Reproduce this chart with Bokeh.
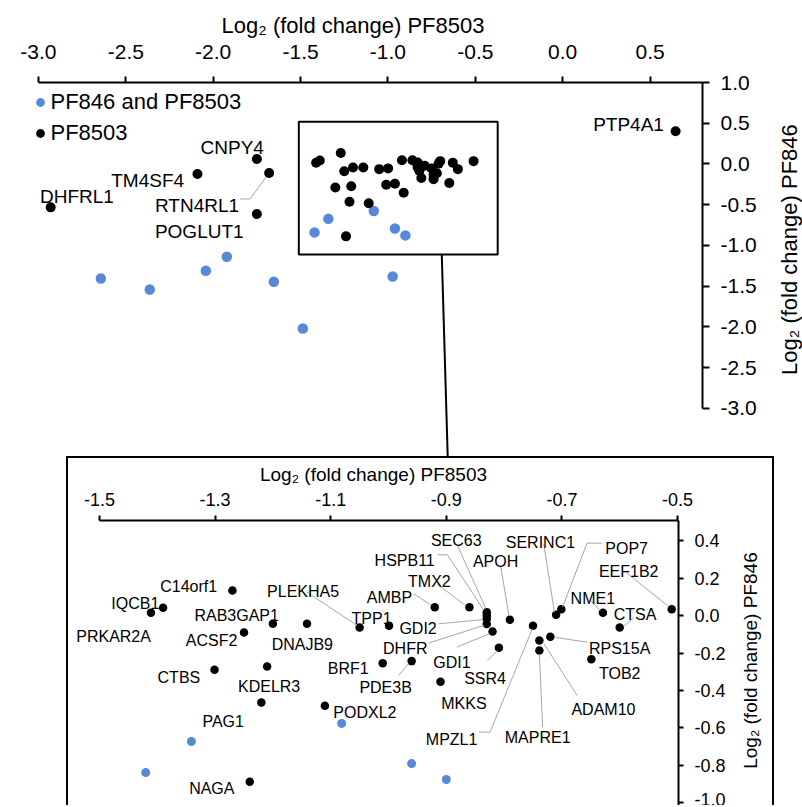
import math
from bokeh.plotting import figure
from bokeh.models import (Range1d, FixedTicker, PrintfTickFormatter, ColumnDataSource,
                          Legend, LegendItem, BoxAnnotation, Spacer)
from bokeh.layouts import column, row
from bokeh.embed import file_html
from bokeh.resources import INLINE
from bokeh.core.properties import value

FONT = "Liberation Sans"
BLUE = "#5889D6"
LEADER = "#A6A6A6"
BORDER = "2px solid black"

# ---------------- data ----------------
# proteins changed in PF8503 only (black)
pf8503_genes = ["DHFRL1", "TM4SF4", "CNPY4", "RTN4RL1", "POGLUT1", "PTP4A1",
                "C14orf1", "IQCB1", "PRKAR2A", "RAB3GAP1", "DNAJB9", "ACSF2",
                "PLEKHA5", "TPP1", "CTBS", "KDELR3", "BRF1", "PDE3B", "MKKS",
                "PAG1", "PODXL2", "NAGA", "AMBP", "TMX2", "SEC63", "HSPB11",
                "GDI2", "DHFR", "GDI1", "APOH", "SSR4", "MPZL1", "SERINC1",
                "POP7", "NME1", "EEF1B2", "CTSA", "RPS15A", "ADAM10", "MAPRE1",
                "TOB2"]
pf8503_x = [-2.93, -2.09, -1.75, -1.68, -1.75, 0.646,
            -1.270, -1.390, -1.411, -1.200, -1.141, -1.250,
            -1.050, -0.999, -1.301, -1.210, -1.010, -0.960, -0.910,
            -1.220, -1.110, -1.240, -0.920, -0.860, -0.830, -0.830,
            -0.830, -0.830, -0.820, -0.790, -0.809, -0.750, -0.710,
            -0.701, -0.629, -0.510, -0.600, -0.720, -0.739, -0.739,
            -0.649]
pf846_y_black = [-0.532, -0.123, 0.061, -0.110, -0.614, 0.401,
                 0.135, 0.042, 0.016, -0.043, -0.043, -0.090,
                 -0.063, -0.054, -0.289, -0.272, -0.254, -0.243, -0.353,
                 -0.464, -0.482, -0.888, 0.045, 0.045, 0.019, 0.001,
                 -0.018, -0.044, -0.084, -0.022, -0.172, -0.054, 0.005,
                 0.035, 0.016, 0.035, -0.063, -0.113, -0.133, -0.186,
                 -0.233]
# proteins changed in both PF846 and PF8503 (blue)
both_x = [-2.643, -2.363, -2.042, -1.922, -1.653, -1.487, -0.973,
          -1.081, -1.341, -1.420, -0.960, -0.900]
both_y = [-1.406, -1.540, -1.309, -1.138, -1.444, -2.019, -1.381,
          -0.576, -0.673, -0.839, -0.791, -0.876]

top_xticks = [-3.0, -2.5, -2.0, -1.5, -1.0, -0.5, 0.0, 0.5]
top_yticks = [-3.0, -2.5, -2.0, -1.5, -1.0, -0.5, 0.0, 0.5, 1.0]
ins_xticks = [-1.5, -1.3, -1.1, -0.9, -0.7, -0.5]
ins_yticks = [-1.0, -0.8, -0.6, -0.4, -0.2, 0.0, 0.2, 0.4]

XLABEL = "Log\u2082 (fold change) PF8503"
YLABEL = "Log\u2082 (fold change) PF846"
LEGEND_BOTH = "PF846 and PF8503"
LEGEND_ONE = "PF8503"

# zoom window drawn on the overview (data units of the overview)
ZOOM_BOX = dict(left=-1.51, right=-0.372, bottom=-1.111, top=0.518)
CONNECT_X = (-0.692, -0.658)

# ---------------- label layout (align, dx px, dy px; baseline offsets) ----------------
TOP_LABELS = {
    "DHFRL1": ("left", -10.7, -10.7),
    "TM4SF4": ("right", -13.4, 6.0),
    "CNPY4": ("center", -24.7, -11.6),
    "RTN4RL1": ("right", -30.0, 32.7),
    "POGLUT1": ("right", -13.3, 17.7),
    "PTP4A1": ("right", -11.7, -6.7),
}
TOP_LEADERS = {"RTN4RL1": [(-29, 26), (-19, 26), (-3, 4)]}

INSET_LABELS = {
    "C14orf1": ("right", -15.3, -4.0),
    "IQCB1": ("right", -3.7, -4.0),
    "PRKAR2A": ("right", 0.0, 23.7),
    "RAB3GAP1": ("right", 6.0, -8.3),
    "ACSF2": ("right", -6.6, 8.0),
    "DNAJB9": ("center", -4.7, 20.7),
    "PLEKHA5": ("center", -56.5, -36.3),
    "TPP1": ("center", -17.5, -7.0),
    "GDI2": ("right", -50.0, 9.8),
    "DHFR": ("right", -59.3, 24.8),
    "GDI1": ("center", -40.6, 30.7),
    "SSR4": ("center", -13.8, 31.0),
    "MKKS": ("left", 0.7, 22.0),
    "AMBP": ("right", -22.6, -10.0),
    "TMX2": ("center", -40.0, -25.7),
    "HSPB11": ("right", -52.0, -55.0),
    "SEC63": ("center", -30.5, -71.7),
    "APOH": ("center", -14.3, -58.3),
    "SERINC1": ("center", -15.7, -72.0),
    "POP7": ("left", 44.0, -60.4),
    "EEF1B2": ("center", -43.0, -37.7),
    "NME1": ("center", -10.1, -14.0),
    "CTSA": ("center", 15.4, -12.7),
    "RPS15A": ("left", 38.6, 12.0),
    "TOB2": ("left", 7.6, 14.6),
    "ADAM10": ("center", 64.1, 69.0),
    "MAPRE1": ("center", -1.7, 87.3),
    "MPZL1": ("right", -55.6, 113.7),
    "BRF1": ("right", -14.0, 5.6),
    "PDE3B": ("center", -26.0, 26.0),
    "CTBS": ("right", -14.3, 7.4),
    "KDELR3": ("center", 2.0, 20.0),
    "PAG1": ("right", -17.4, 18.7),
    "PODXL2": ("left", 8.4, 6.4),
    "NAGA": ("right", -15.3, 6.4),
}
INSET_LEADERS = {
    "PLEKHA5": [(-52.6, -35.3), (-2.6, -2.0)],
    "GDI2": [(-48.3, 4.8), (-4.0, 0.5)],
    "DHFR": [(-58.3, 19.2), (-3.0, 1.5)],
    "GDI1": [(-35.6, 15.7), (-3.0, 2.3)],
    "SSR4": [(-11.6, 12.7), (-1.6, 2.7)],
    "AMBP": [(-21.0, -13.4), (-4.3, -2.7)],
    "TMX2": [(-32.3, -23.4), (-4.0, -1.7)],
    "HSPB11": [(-49.3, -60.7), (-39.3, -60.7), (-2.7, -5.0)],
    "SEC63": [(-29.3, -66.7), (-1.0, -3.7)],
    "APOH": [(-9.3, -54.3), (-1.0, -4.3)],
    "SERINC1": [(-12.4, -71.0), (-1.7, -2.6)],
    "POP7": [(40.7, -66.0), (25.7, -66.0), (1.3, -2.0)],
    "EEF1B2": [(-46.0, -37.0), (-4.3, -3.7)],
    "NME1": [(-12.3, -12.3), (-3.0, -2.3)],
    "CTSA": [(14.0, -9.7), (4.0, -1.0)],
    "RPS15A": [(37.0, 5.4), (3.6, 0.4)],
    "ADAM10": [(38.0, 55.0), (4.6, 3.3)],
    "MAPRE1": [(3.3, 76.7), (0.0, 3.7)],
    "MPZL1": [(-54.0, 106.4), (-43.0, 106.4), (-0.6, 3.0)],
    "PDE3B": [(-13.0, 14.3), (-3.0, 2.6)],
}

lookup = {g: (x, y) for g, x, y in zip(pf8503_genes, pf8503_x, pf846_y_black)}


def style_axis(ax, ticks, fs, title_fs, tick_out, lab_standoff, title_standoff, title,
               bounds=None):
    ax.ticker = FixedTicker(ticks=ticks)
    ax.formatter = PrintfTickFormatter(format="%.1f")
    ax.minor_tick_line_color = None
    ax.major_tick_in = 0
    ax.major_tick_out = tick_out
    ax.major_tick_line_width = 2
    ax.major_tick_line_color = "black"
    ax.axis_line_width = 2
    ax.axis_line_color = "black"
    ax.major_label_text_font = FONT
    ax.major_label_text_font_size = fs
    ax.major_label_text_color = "black"
    ax.major_label_standoff = lab_standoff
    ax.axis_label = title
    ax.axis_label_text_font = FONT
    ax.axis_label_text_font_size = title_fs
    ax.axis_label_text_font_style = "normal"
    ax.axis_label_text_color = "black"
    ax.axis_label_standoff = title_standoff
    if bounds is not None:
        ax.bounds = bounds


def add_labels(fig, layout, fs):
    for align in ("left", "center", "right"):
        sel = [g for g in pf8503_genes if g in layout and layout[g][0] == align]
        if not sel:
            continue
        src = ColumnDataSource(dict(
            x=[lookup[g][0] for g in sel], y=[lookup[g][1] for g in sel], text=sel,
            dx=[layout[g][1] for g in sel], dy=[layout[g][2] for g in sel]))
        fig.text(x="x", y="y", text="text", x_offset="dx", y_offset="dy", source=src,
                 text_align=align, text_baseline="alphabetic", text_font=value(FONT),
                 text_font_size=fs, text_color="black")


def add_leaders(fig, leaders, sx, sy):
    xs, ys = [], []
    for g, verts in leaders.items():
        x0, y0 = lookup[g]
        xs.append([x0 + dx / sx for dx, dy in verts])
        ys.append([y0 - dy / sy for dx, dy in verts])
    fig.multi_line(xs, ys, line_color=LEADER, line_width=1)


def title_strip(width, height, y_range, text, fs, x_px, y_mid, styles=None):
    """A narrow plot that carries a rotated axis title (reads bottom to top)."""
    f = figure(width=width, height=height, x_range=Range1d(0, width), y_range=y_range,
               x_axis_location=None, y_axis_location=None,
               output_backend="svg", toolbar_location=None, min_border=0)
    f.xgrid.visible = False
    f.ygrid.visible = False
    f.outline_line_color = None
    f.text(x=[x_px], y=[y_mid], text=[text], angle=math.pi / 2, text_align="center",
           text_baseline="middle", text_font=value(FONT), text_font_size=fs,
           text_color="black")
    if styles:
        f.styles = styles
    return f


# ---------------- overview ----------------
TOP_W, TOP_H, STRIP_W = 770, 456, 32
T_LEFT, T_RIGHT, T_TOP = 3, 68, 82
TX = (-3.2, 0.8)
TY = (-3.589, 1.0)
top_yr = Range1d(*TY)
p = figure(width=TOP_W, height=TOP_H, x_range=Range1d(*TX), y_range=top_yr,
           x_axis_location="above", y_axis_location="right",
           output_backend="svg", toolbar_location=None,
           min_border_left=T_LEFT, min_border_right=T_RIGHT,
           min_border_top=T_TOP, min_border_bottom=0)
p.xgrid.visible = False
p.ygrid.visible = False
p.outline_line_color = None
style_axis(p.xaxis[0], top_xticks, "21px", "22px", 6, 18, 4, XLABEL, bounds=(-3.0, 0.8))
style_axis(p.yaxis[0], top_yticks, "21px", "22px", 7, 11, 0, None, bounds=(-3.0, 1.0))

sx_top = (TOP_W - T_LEFT - T_RIGHT) / (TX[1] - TX[0])
sy_top = (TOP_H - T_TOP) / (TY[1] - TY[0])

p.add_layout(BoxAnnotation(fill_color=None, fill_alpha=0, line_color="black",
                           line_alpha=1.0, line_width=2, **ZOOM_BOX))
p.segment(x0=[CONNECT_X[0]], y0=[ZOOM_BOX["bottom"]], x1=[CONNECT_X[1]], y1=[TY[0]],
          line_color="black", line_width=2)

r_blue = p.scatter(both_x, both_y, size=10.5, color=BLUE, line_width=0)
r_black = p.scatter(pf8503_x, pf846_y_black, size=10, color="black", line_width=0)
add_leaders(p, TOP_LEADERS, sx_top, sy_top)
add_labels(p, TOP_LABELS, "19px")

legend = Legend(items=[LegendItem(label=value(LEGEND_BOTH), renderers=[r_blue]),
                       LegendItem(label=value(LEGEND_ONE), renderers=[r_black])],
                location=(25.5, 310.3), glyph_width=22, glyph_height=26,
                label_height=26, spacing=5, padding=0, margin=0, label_standoff=0,
                label_text_font=FONT, label_text_font_size="22px",
                label_text_color="black",
                border_line_color=None, background_fill_alpha=0)
p.add_layout(legend)

p_title = title_strip(STRIP_W, TOP_H, top_yr, YLABEL, "22px", 19, -1.05)

# ---------------- inset ----------------
INS_W, INS_H, ISTRIP_W = 670, 349, 38
I_LEFT, I_RIGHT, I_TOP = 0, 60, 62
SX_IN, SY_IN = 578.0, 187.0
AXIS_START_PX = 31  # inset x axis begins this far right of the box edge
IX0 = -1.5 - AXIS_START_PX / SX_IN
IX = (IX0, IX0 + (INS_W - I_LEFT - I_RIGHT) / SX_IN)
IY = (0.509 - (INS_H - I_TOP) / SY_IN, 0.509)
ins_yr = Range1d(*IY)
q = figure(width=INS_W, height=INS_H, x_range=Range1d(*IX), y_range=ins_yr,
           x_axis_location="above", y_axis_location="right",
           output_backend="svg", toolbar_location=None,
           min_border_left=I_LEFT, min_border_right=I_RIGHT,
           min_border_top=I_TOP, min_border_bottom=0)
q.xgrid.visible = False
q.ygrid.visible = False
q.outline_line_color = None
style_axis(q.xaxis[0], ins_xticks, "18px", "19px", 5, 10, 5, XLABEL, bounds=(-1.5, IX[1]))
style_axis(q.yaxis[0], ins_yticks, "18px", "19px", 5, 11, 0, None)
q.styles = {"border-left": BORDER, "border-top": BORDER}

q.scatter(both_x, both_y, size=9, color=BLUE, line_width=0)
q.scatter(pf8503_x, pf846_y_black, size=8.5, color="black", line_width=0)
add_leaders(q, INSET_LEADERS, SX_IN, SY_IN)
add_labels(q, INSET_LABELS, "16px")

q_title = title_strip(ISTRIP_W, INS_H, ins_yr, YLABEL, "19px", 14, -0.24,
                      styles={"border-top": BORDER, "border-right": BORDER})

layout = column(row(p, p_title), row(Spacer(width=66, height=INS_H), q, q_title))
open("out.html", "w").write(file_html(layout, INLINE))
